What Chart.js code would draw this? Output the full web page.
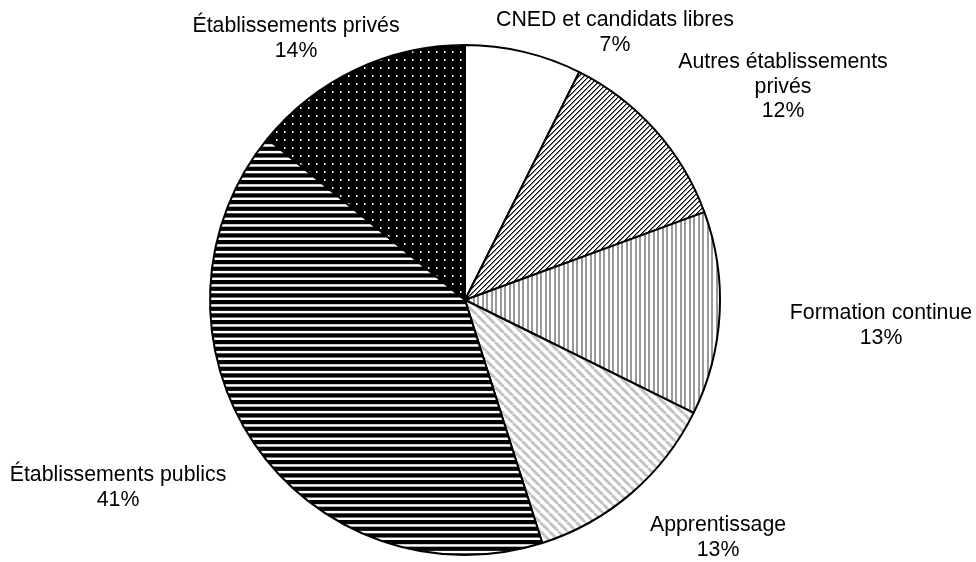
<!DOCTYPE html>
<html lang="fr">
<head>
<meta charset="utf-8">
<title>Répartition des candidats</title>
<script src="https://cdn.jsdelivr.net/npm/chart.js@4"></script>
<style>
  html, body { margin: 0; padding: 0; background: #fff; }
  #chartCanvas { display: block; }
</style>
</head>
<body>
<canvas id="chartCanvas" width="976" height="562"></canvas>
<script>
// --- data (clockwise from 12 o'clock) ---
const categories = [
  "CNED et candidats libres",
  "Autres établissements\nprivés",
  "Formation continue",
  "Apprentissage",
  "Établissements publics",
  "Établissements privés"
];
const shares = [7.4, 12.0, 12.9, 12.8, 40.8, 14.1];

// where each label sits, relative to the pie centre (px)
const labelOffsets = [[150, -274], [318, -232], [416, 19], [253, 231], [-347, 181], [-169, -268]];

// --- fill patterns (black & white print style) ---
function makePattern(w, h, draw) {
  const c = document.createElement("canvas");
  c.width = w; c.height = h;
  const g = c.getContext("2d");
  g.fillStyle = "#fff";
  g.fillRect(0, 0, w, h);
  draw(g, w, h);
  return g.createPattern(c, "repeat");
}

const fills = [
  "#ffffff",
  // fine dark "/" hatch
  makePattern(5, 5, (g, w) => {
    for (let i = 0; i < w; i++) {
      g.fillStyle = "#000"; g.fillRect(w - 1 - i, i, 1, 1);
      g.fillStyle = "#777"; g.fillRect((w - i) % w, i, 1, 1);
    }
  }),
  // grey vertical stripes
  makePattern(9, 9, (g, w, h) => {
    g.fillStyle = "#999";
    g.fillRect(0, 0, 2, h);
    g.fillRect(5, 0, 2, h);
  }),
  // light grey "\" stripes
  makePattern(9, 9, (g, w, h) => {
    g.strokeStyle = "#c2c2c2";
    g.lineWidth = 2.8;
    for (let k = -1; k <= 1; k++) {
      g.beginPath();
      g.moveTo(k * w, 0);
      g.lineTo(k * w + w, h);
      g.stroke();
    }
  }),
  // black horizontal stripes
  makePattern(4, 20, (g, w) => {
    g.fillStyle = "#000";
    [0, 6.67, 13.33].forEach(y => g.fillRect(0, y, w, 4.2));
  }),
  // black with white dots
  makePattern(8, 8, (g, w, h) => {
    g.fillStyle = "#000";
    g.fillRect(0, 0, w, h);
    g.fillStyle = "#fff";
    g.fillRect(4, 3, 1.5, 2);
  })
];

// --- labels drawn next to the slices ---
const sliceLabels = {
  id: "sliceLabels",
  afterDatasetsDraw(chart) {
    const ctx = chart.ctx;
    const arcs = chart.getDatasetMeta(0).data;
    const total = shares.reduce((a, b) => a + b, 0);
    ctx.save();
    ctx.font = "21.3px 'Liberation Sans', Arial, sans-serif";
    ctx.fillStyle = "#000";
    ctx.textAlign = "center";
    ctx.textBaseline = "alphabetic";
    arcs.forEach((arc, i) => {
      const lines = categories[i].split("\n").concat(Math.round(shares[i] / total * 100) + "%");
      const [dx, dy] = labelOffsets[i];
      lines.forEach((t, k) => ctx.fillText(t, arc.x + dx, arc.y + dy + k * 24.5));
    });
    ctx.restore();
  }
};

new Chart(document.getElementById("chartCanvas"), {
  type: "pie",
  data: {
    labels: categories,
    datasets: [{
      data: shares,
      backgroundColor: fills,
      borderColor: "#000",
      borderWidth: 2
    }]
  },
  options: {
    responsive: false,
    animation: false,
    layout: { padding: { left: 209, right: 255, top: 44, bottom: 6 } },
    plugins: {
      legend: { display: false },
      tooltip: { enabled: false }
    }
  },
  plugins: [sliceLabels]
});
</script>
</body>
</html>
